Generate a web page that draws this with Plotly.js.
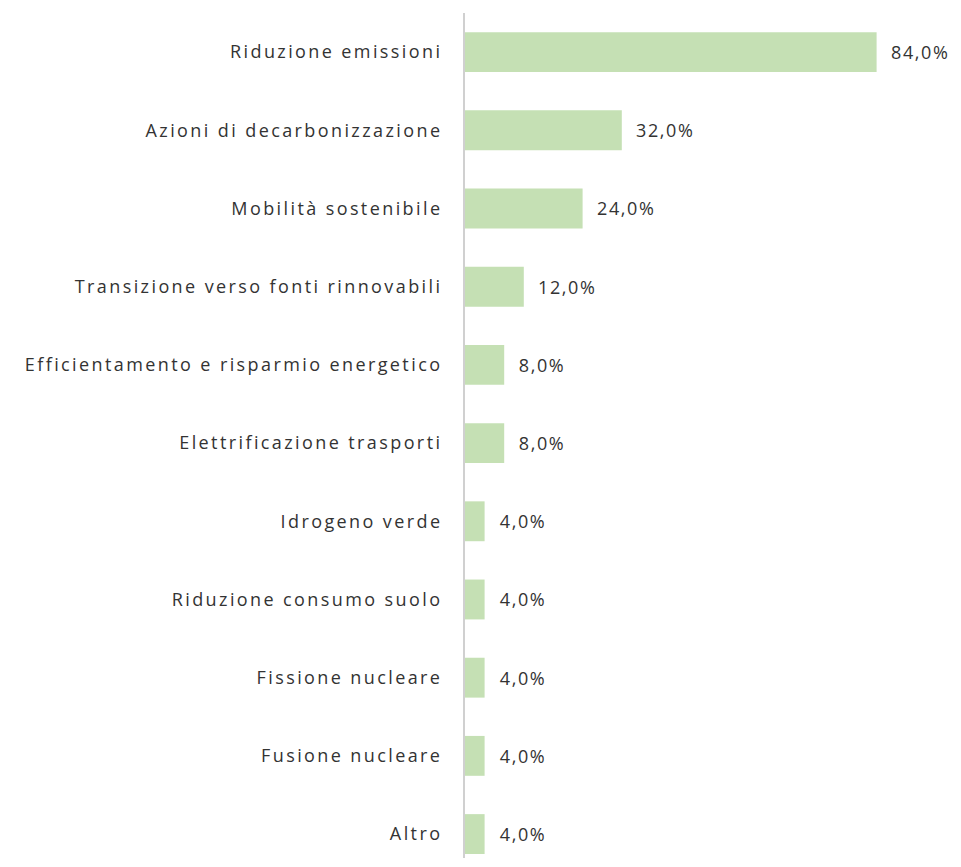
<!DOCTYPE html>
<html>
<head>
<meta charset="utf-8">
<script src="https://cdn.plot.ly/plotly-3.0.1.min.js"></script>
<style>
html,body{margin:0;padding:0;background:#fff;}
#chart{width:961px;height:867px;}
#chart .ytick text{letter-spacing:2.4px;}
#chart .annotation-text{letter-spacing:1.6px;}
</style>
</head>
<body>
<div id="chart"></div>
<script>
var categories = [
  "Riduzione emissioni",
  "Azioni di decarbonizzazione",
  "Mobilità sostenibile",
  "Transizione verso fonti rinnovabili",
  "Efficientamento e risparmio energetico",
  "Elettrificazione trasporti",
  "Idrogeno verde",
  "Riduzione consumo suolo",
  "Fissione nucleare",
  "Fusione nucleare",
  "Altro"
];
var values = [84, 32, 24, 12, 8, 8, 4, 4, 4, 4, 4];

var font = {family: "Open Sans, Noto Sans, sans-serif", size: 18, color: "#333333"};

var annotations = values.map(function (v, i) {
  return {
    x: v, y: categories[i], xref: "x", yref: "y",
    text: v.toFixed(1).replace(".", ",") + "%",
    showarrow: false, xanchor: "left", yanchor: "middle",
    xshift: 16, font: font
  };
});

var data = [{
  type: "bar",
  orientation: "h",
  x: values,
  y: categories,
  marker: {color: "#C5E0B4"},
  hoverinfo: "none"
}];

var layout = {
  width: 961, height: 867,
  margin: {l: 465, r: 6, t: 13, b: 9},
  paper_bgcolor: "#fff", plot_bgcolor: "#fff",
  showlegend: false,
  bargap: 0.49,
  font: font,
  separators: ",.",
  xaxis: {range: [0, 100], showgrid: false, zeroline: false, showticklabels: false, ticks: "", showline: false, fixedrange: true},
  yaxis: {
    type: "category",
    range: [10.306, -0.5],
    showgrid: false, zeroline: false,
    showline: true, linecolor: "#D0D0D0", linewidth: 2,
    ticks: "", ticklabelstandoff: 17,
    tickfont: font, fixedrange: true
  },
  annotations: annotations
};

Plotly.newPlot("chart", data, layout, {displayModeBar: false, staticPlot: true});
</script>
</body>
</html>
